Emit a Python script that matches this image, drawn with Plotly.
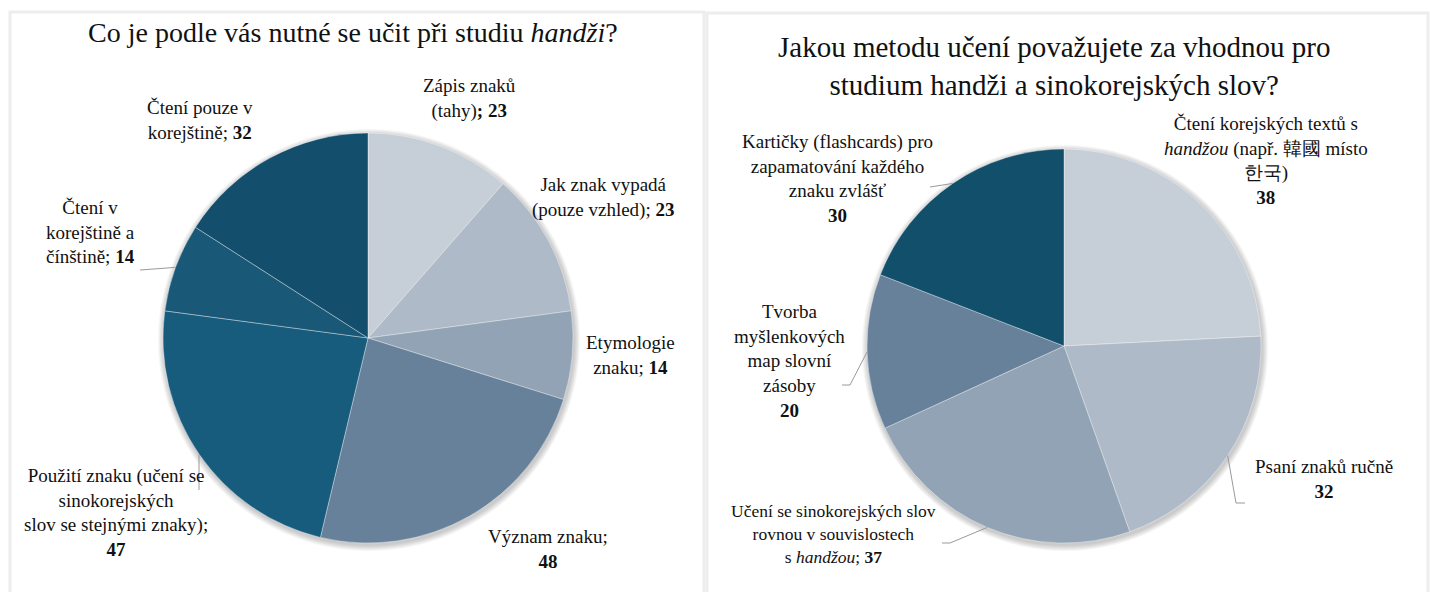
import math
import plotly.graph_objects as go

# ---- data ----
left_labels = ["Zápis znaků (tahy)", "Jak znak vypadá (pouze vzhled)", "Etymologie znaku",
               "Význam znaku", "Použití znaku (učení se sinokorejských slov se stejnými znaky)",
               "Čtení v korejštině a čínštině", "Čtení pouze v korejštině"]
left_values = [23, 23, 14, 48, 47, 14, 32]
left_colors = ["#c6ced8", "#aebac7", "#91a3b4", "#67819a", "#175b7d", "#1a5878", "#134f6c"]
left_text = ["Zápis znaků<br>(tahy)<b>; 23</b>",
             "Jak znak vypadá<br>(pouze vzhled); <b>23</b>",
             "Etymologie<br>znaku; <b>14</b>",
             "Význam znaku;<br><b>48</b>",
             "Použití znaku (učení se<br>sinokorejských<br>slov se stejnými znaky);<br><b>47</b>",
             "Čtení v<br>korejštině a<br>čínštině; <b>14</b>",
             "Čtení pouze v<br>korejštině; <b>32</b>"]
left_title = "Co je podle vás nutné se učit při studiu <i>handži</i>?"

right_labels = ["Čtení korejských textů s handžou", "Psaní znaků ručně",
                "Učení se sinokorejských slov rovnou v souvislostech s handžou",
                "Tvorba myšlenkových map slovní zásoby",
                "Kartičky (flashcards) pro zapamatování každého znaku zvlášť"]
right_values = [38, 32, 37, 20, 30]
right_colors = ["#c6ced8", "#aebac7", "#91a3b4", "#67819a", "#124f6b"]
right_text = ["Čtení korejských textů s<br><i>handžou</i> (např. 韓國 místo<br>한국)<br><b>38</b>",
              "Psaní znaků ručně<br><b>32</b>",
              "Učení se sinokorejských slov<br>rovnou v souvislostech<br>s <i>handžou</i>; <b>37</b>",
              "Tvorba<br>myšlenkových<br>map slovní<br>zásoby<br><b>20</b>",
              "Kartičky (flashcards) pro<br>zapamatování každého<br>znaku zvlášť<br><b>30</b>"]
right_title = "Jakou metodu učení považujete za vhodnou pro<br>studium handži a sinokorejských slov?"

W, H = 1430, 592
FONT = "Times New Roman"

# layout (pixel geometry)
L_CX, L_CY, L_R = 368, 338, 205
R_CX, R_CY, R_R = 1064, 346, 197

def dom(cx, cy, r):
    return dict(x=[(cx - r) / W, (cx + r) / W],
                y=[(H - cy - r) / H, (H - cy + r) / H])

fig = go.Figure()

# soft drop shadows behind the pies
for cx, cy, r in [(L_CX, L_CY, L_R), (R_CX, R_CY, R_R)]:
    for k in range(6, 0, -1):
        fig.add_trace(go.Pie(values=[1], labels=["shadow"], textinfo="none", sort=False,
                             marker=dict(colors=["rgba(0,0,0,0.035)"], line=dict(width=0)),
                             domain=dom(cx + 1, cy + 2, r + k), hoverinfo="skip",
                             showlegend=False))

fig.add_trace(go.Pie(labels=left_labels, values=left_values, sort=False,
                     direction="clockwise", rotation=0, textinfo="none",
                     marker=dict(colors=left_colors, line=dict(color="rgba(255,255,255,0.6)", width=0.6)),
                     domain=dom(L_CX, L_CY, L_R), hoverinfo="label+value", showlegend=False))
fig.add_trace(go.Pie(labels=right_labels, values=right_values, sort=False,
                     direction="clockwise", rotation=0, textinfo="none",
                     marker=dict(colors=right_colors, line=dict(color="rgba(255,255,255,0.6)", width=0.6)),
                     domain=dom(R_CX, R_CY, R_R), hoverinfo="label+value", showlegend=False))

def edge_point(values, idx, cx, cy, r):
    tot = sum(values)
    start = sum(values[:idx])
    mid = (start + values[idx] / 2) / tot * 2 * math.pi
    return cx + r * math.sin(mid), cy - r * math.cos(mid)

annotations = []
def add_label(text, x, y, size=19):
    annotations.append(dict(text=text, x=x / W, y=1 - y / H, xref="paper", yref="paper",
                            showarrow=False, font=dict(family=FONT, size=size, color="#111"),
                            align="center", xanchor="center", yanchor="middle"))

# label centre positions in px
left_pos = [(470, 99), (603, 198), (630, 355), (548, 549), (116, 512), (90, 232), (200, 120)]
for t, (x, y) in zip(left_text, left_pos):
    add_label(t, x, y)
right_pos = [(1266, 161), (1324, 479), (834, 534), (790, 361), (837, 178)]
for i, (t, (x, y)) in enumerate(zip(right_text, right_pos)):
    add_label(t, x, y, size=17.5 if i == 2 else 19)

annotations.append(dict(text=left_title, x=353 / W, y=1 - 33 / H, xref="paper", yref="paper",
                        showarrow=False, font=dict(family=FONT, size=28, color="#111"),
                        xanchor="center", yanchor="middle"))
annotations.append(dict(text=right_title, x=1054 / W, y=1 - 66 / H, xref="paper", yref="paper",
                        showarrow=False, font=dict(family=FONT, size=29, color="#111"),
                        xanchor="center", yanchor="middle", align="center"))

shapes = []
# panel borders
for x0, x1, y0 in [(10, 704, 12), (707, 1428, 13)]:
    shapes.append(dict(type="rect", xref="paper", yref="paper", x0=x0 / W, x1=x1 / W,
                       y0=-0.02, y1=1 - y0 / H, line=dict(color="#ededed", width=3), layer="below"))

def leader(points):
    path = "M " + " L ".join(f"{px / W},{1 - py / H}" for px, py in points)
    shapes.append(dict(type="path", xref="paper", yref="paper", path=path,
                       line=dict(color="#9a9a9a", width=1)))

# leader lines: label end -> slice mid-angle edge
ex, ey = edge_point(left_values, 5, L_CX, L_CY, L_R)
leader([(140, 270), (ex, ey)])
ex, ey = edge_point(left_values, 4, L_CX, L_CY, L_R)
leader([(ex, 490), (ex, ey)])
ex, ey = edge_point(right_values, 4, R_CX, R_CY, R_R)
leader([(930, 187), (ex, ey)])
ex, ey = edge_point(right_values, 3, R_CX, R_CY, R_R)
leader([(842, 385), (850, 385), (ex, ey)])
ex, ey = edge_point(right_values, 2, R_CX, R_CY, R_R)
leader([(942, 543), (950, 543), (ex, ey)])
ex, ey = edge_point(right_values, 1, R_CX, R_CY, R_R)
leader([(1245, 503), (1236, 503), (ex, ey)])

fig.update_layout(width=W, height=H, margin=dict(l=0, r=0, t=0, b=0),
                  paper_bgcolor="white", plot_bgcolor="white",
                  annotations=annotations, shapes=shapes, showlegend=False)
fig.write_html("out.html")
